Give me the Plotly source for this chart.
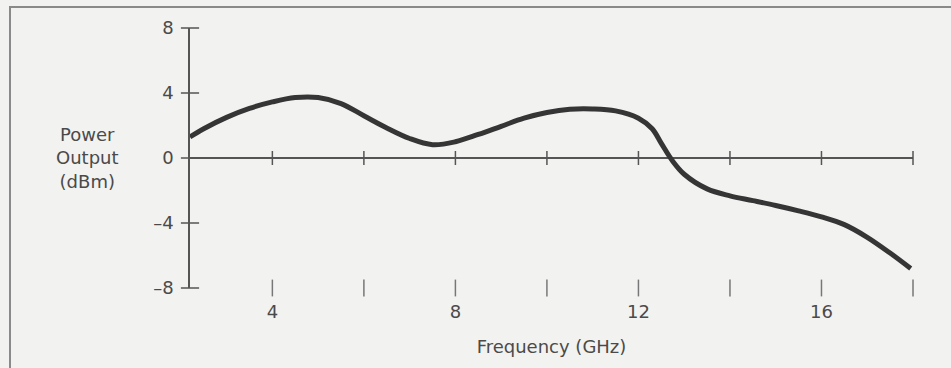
import plotly.graph_objects as go

# Data
freq_ghz = [2.2, 2.5, 3.0, 3.5, 4.0, 4.5, 5.0, 5.5, 6.0, 6.5, 7.0, 7.5, 8.0, 8.5,
            9.0, 9.5, 10.0, 10.5, 11.0, 11.5, 12.0, 12.3, 12.5, 12.75, 13.0, 13.5,
            14.0, 14.5, 15.0, 15.5, 16.0, 16.5, 17.0, 17.5, 17.95]
power_dbm = [1.3, 1.8, 2.5, 3.05, 3.45, 3.72, 3.72, 3.35, 2.6, 1.85, 1.2, 0.82, 1.0, 1.45,
             1.95, 2.45, 2.8, 3.0, 3.02, 2.9, 2.45, 1.8, 0.9, -0.2, -1.0, -1.9,
             -2.33, -2.62, -2.92, -3.25, -3.62, -4.1, -4.88, -5.85, -6.8]

x_ticks = [4, 6, 8, 10, 12, 14, 16, 18]
x_tick_text = ["4", "", "8", "", "12", "", "16", ""]
y_ticks = [-8, -4, 0, 4, 8]
y_tick_text = ["\u20138", "\u20134", "0", "4", "8"]
x_start = 2.2
x_end = 18

FONT = "DejaVu Sans, Liberation Sans, Arial, sans-serif"
INK = "#353535"
AXIS = "#555555"
TEXT = "#4a4a4a"
BG = "#f2f2f0"
FS = 18

fig = go.Figure()

# Curve
fig.add_trace(go.Scatter(
    x=freq_ghz, y=power_dbm, mode="lines",
    line=dict(color=INK, width=5, shape="spline", smoothing=1.0),
    hoverinfo="skip", showlegend=False,
))

# Crossing tick marks on the zero line
fig.add_trace(go.Scatter(
    x=x_ticks, y=[0] * len(x_ticks), mode="markers",
    marker=dict(symbol="line-ns", size=10, line=dict(color=AXIS, width=1.5)),
    cliponaxis=False, hoverinfo="skip", showlegend=False,
))

# Crossing tick marks on the vertical axis
fig.add_trace(go.Scatter(
    x=[x_start] * len(y_ticks), y=y_ticks, mode="markers",
    marker=dict(symbol="line-ew", size=13, line=dict(color=AXIS, width=1.5)),
    cliponaxis=False, hoverinfo="skip", showlegend=False,
))

# Small frequency marks above the tick labels
fig.add_trace(go.Scatter(
    x=x_ticks, y=[-8] * len(x_ticks), mode="markers",
    marker=dict(symbol="line-ns", size=12, line=dict(color="#777777", width=1.5)),
    cliponaxis=False, hoverinfo="skip", showlegend=False,
))

fig.update_layout(
    width=951, height=368,
    margin=dict(l=190, r=38, t=28, b=80),
    paper_bgcolor=BG, plot_bgcolor=BG,
    font=dict(family=FONT, size=FS, color=TEXT),
    showlegend=False,
    xaxis=dict(
        range=[x_start, x_end], showgrid=False, zeroline=False, showline=False,
        tickvals=x_ticks, ticktext=x_tick_text, ticks="",
        ticklabelstandoff=11,
        tickfont=dict(family=FONT, size=FS, color=TEXT),
        title=dict(text="Frequency (GHz)", standoff=19,
                   font=dict(family=FONT, size=FS, color=TEXT)),
    ),
    yaxis=dict(
        range=[-8, 8], showgrid=False,
        zeroline=True, zerolinecolor=AXIS, zerolinewidth=1.5,
        showline=True, linecolor=AXIS, linewidth=1.5,
        tickvals=y_ticks, ticktext=y_tick_text, ticks="",
        ticklabelstandoff=11,
        tickfont=dict(family=FONT, size=FS, color=TEXT),
    ),
    shapes=[dict(
        type="rect", xref="paper", yref="paper",
        x0=(10 - 190) / 723, x1=(970 - 190) / 723,
        y0=(288 - 390) / 260, y1=(288 - 7) / 260,
        line=dict(color="#8a8a8a", width=2), fillcolor="rgba(0,0,0,0)",
        layer="below",
    )],
    annotations=[dict(
        text="Power<br>Output<br>(dBm)", xref="paper", yref="paper",
        x=(87 - 190) / 723, y=(288 - 158) / 260,
        xanchor="center", yanchor="middle", showarrow=False, align="center",
        font=dict(family=FONT, size=FS, color=TEXT),
    )],
)

fig.write_html("out.html", config={"displayModeBar": False},
               post_script="document.body.style.margin='0';")
